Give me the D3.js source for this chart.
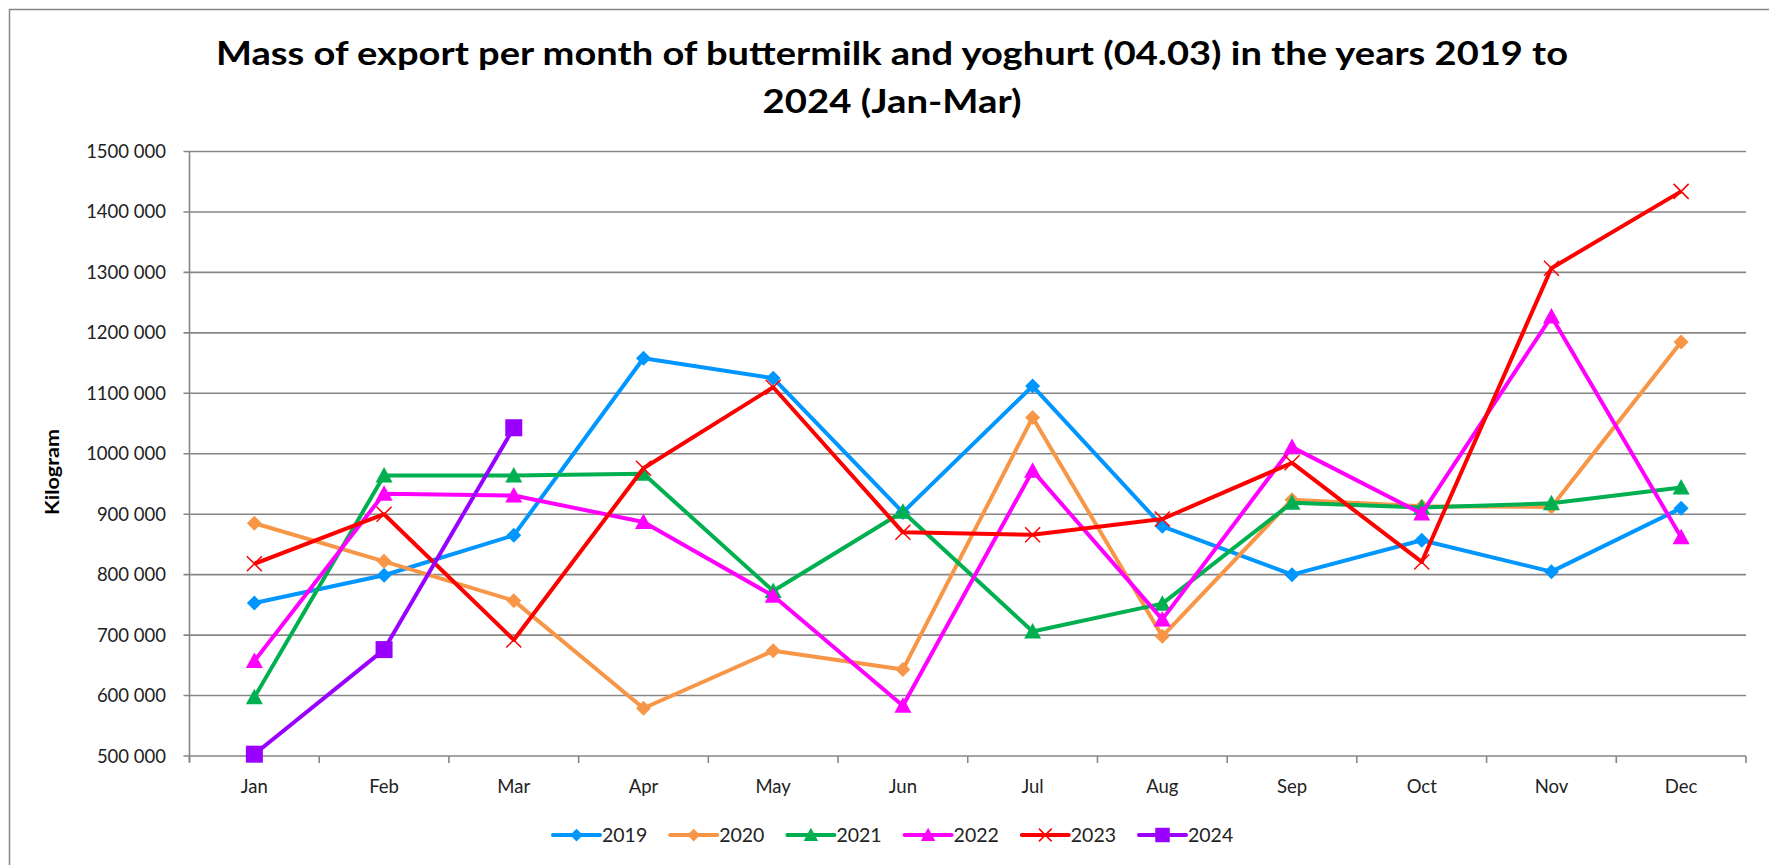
<!DOCTYPE html>
<html>
<head>
<meta charset="utf-8">
<script src="https://cdn.jsdelivr.net/npm/d3@7"></script>
<style>
  html, body { margin: 0; padding: 0; background: #fff; }
  svg { display: block; }
  text { font-family: "Lato", "Open Sans", sans-serif; }
</style>
</head>
<body>
<svg id="chart"></svg>
<script>
// months on the x axis
var months = ["Jan","Feb","Mar","Apr","May","Jun","Jul","Aug","Sep","Oct","Nov","Dec"];
var yTicks = [500000,600000,700000,800000,900000,1000000,1100000,1200000,1300000,1400000,1500000];

// kilogram per month
var s2019 = [753000, 799000, 865000, 1158000, 1125000, 903000, 1112000, 880000, 800000, 857000, 805000, 910000];
var s2020 = [885000, 822000, 757000, 579000, 674000, 643000, 1060000, 698000, 924000, 913000, 912000, 1185000];
var s2021 = [597000, 964000, 964000, 967000, 773000, 904000, 706000, 752000, 919000, 911000, 918000, 944000];
var s2022 = [657000, 934000, 931000, 887000, 765000, 583000, 972000, 726000, 1011000, 901000, 1227000, 862000];
var s2023 = [818000, 900000, 692000, 976000, 1110000, 870000, 866000, 892000, 985000, 821000, 1307000, 1434000];
var s2024 = [503000, 676000, 1043000];

var seriesNames = ["2019","2020","2021","2022","2023","2024"];
var seriesColors = ["#0096FF","#F79646","#00B050","#FF00FF","#FF0000","#9900FF"];
var seriesMarkers = ["diamond","diamond","triangle","triangle","cross","square"];
var seriesValues = [s2019, s2020, s2021, s2022, s2023, s2024];

var width = 1769, height = 865;
var plot = {left: 189.5, right: 1746, top: 151.5, bottom: 756};

var svg = d3.select("#chart").attr("width", width).attr("height", height);

// outer chart border
svg.append("rect").attr("x", 9.5).attr("y", 9.5).attr("width", 1800).attr("height", 900)
	.attr("fill", "none").attr("stroke", "#868686").attr("stroke-width", 1.5);

var x = d3.scaleBand().domain(months).range([plot.left, plot.right]).paddingInner(0).paddingOuter(0);
var y = d3.scaleLinear().domain([500000, 1500000]).range([plot.bottom, plot.top]);
var cx = function(i){ return x(months[i]) + x.bandwidth()/2; };

// title
var title = svg.append("g").attr("font-weight", "bold").attr("text-anchor", "middle").attr("fill", "#000");
title.append("text").attr("x", 892).attr("y", 65).attr("font-size", 33)
	.attr("textLength", 1352).attr("lengthAdjust", "spacingAndGlyphs")
	.text("Mass of export per month of buttermilk and yoghurt (04.03) in the years 2019 to");
title.append("text").attr("x", 892).attr("y", 113).attr("font-size", 33)
	.attr("textLength", 259).attr("lengthAdjust", "spacingAndGlyphs")
	.text("2024 (Jan-Mar)");

// gridlines
svg.append("g").selectAll("line").data(yTicks).enter().append("line")
	.attr("x1", plot.left - 6).attr("x2", plot.right)
	.attr("y1", function(d){ return y(d); }).attr("y2", function(d){ return y(d); })
	.attr("stroke", "#868686").attr("stroke-width", 1.6);

// y axis line
svg.append("line").attr("x1", plot.left).attr("x2", plot.left)
	.attr("y1", plot.top).attr("y2", plot.bottom + 6)
	.attr("stroke", "#868686").attr("stroke-width", 1.6);

// y tick labels
svg.append("g").selectAll("text").data(yTicks).enter().append("text")
	.attr("x", 166).attr("y", function(d){ return y(d) + 6.5; })
	.attr("text-anchor", "end").attr("font-size", 18.5).attr("fill", "#222")
	.text(function(d){ return Math.floor(d/1000) + " 000"; });

// x ticks at band boundaries
var bounds = months.map(function(m){ return x(m); }).concat([plot.right]);
svg.append("g").selectAll("line").data(bounds).enter().append("line")
	.attr("x1", function(d){ return d; }).attr("x2", function(d){ return d; })
	.attr("y1", plot.bottom).attr("y2", plot.bottom + 7)
	.attr("stroke", "#868686").attr("stroke-width", 1.6);

// x tick labels
svg.append("g").selectAll("text").data(months).enter().append("text")
	.attr("x", function(d){ return x(d) + x.bandwidth()/2; }).attr("y", 793)
	.attr("text-anchor", "middle").attr("font-size", 18.5).attr("fill", "#222")
	.text(function(d){ return d; });

// y axis title
svg.append("text").attr("transform", "translate(59,472) rotate(-90)")
	.attr("text-anchor", "middle").attr("font-size", 19).attr("font-weight", "bold")
	.attr("textLength", 86).attr("lengthAdjust", "spacingAndGlyphs")
	.text("Kilogram");

function drawMarker(g, type, color, px, py, k){
	k = k || 1;
	if(type === "diamond"){
		g.append("path").attr("d", "M"+px+","+(py-7.5*k)+"L"+(px+7.5*k)+","+py+"L"+px+","+(py+7.5*k)+"L"+(px-7.5*k)+","+py+"Z")
			.attr("fill", color);
	}else if(type === "triangle"){
		g.append("path").attr("d", "M"+px+","+(py-8.5*k)+"L"+(px+8.5*k)+","+(py+7*k)+"L"+(px-8.5*k)+","+(py+7*k)+"Z")
			.attr("fill", color);
	}else if(type === "square"){
		g.append("rect").attr("x", px-8.5*k).attr("y", py-8.5*k).attr("width", 17*k).attr("height", 17*k).attr("fill", color);
	}else if(type === "cross"){
		g.append("path").attr("d", "M"+(px-7.5*k)+","+(py-7.5*k)+"L"+(px+7.5*k)+","+(py+7.5*k)+"M"+(px+7.5*k)+","+(py-7.5*k)+"L"+(px-7.5*k)+","+(py+7.5*k))
			.attr("stroke", color).attr("stroke-width", 1.5).attr("fill", "none");
	}
}

var line = d3.line().x(function(d, i){ return cx(i); }).y(function(d){ return y(d); });

// series lines and markers
seriesValues.forEach(function(vals, si){
	var g = svg.append("g");
	g.append("path").datum(vals).attr("d", line)
		.attr("fill", "none").attr("stroke", seriesColors[si]).attr("stroke-width", 4)
		.attr("stroke-linejoin", "round");
	vals.forEach(function(v, i){
		drawMarker(g, seriesMarkers[si], seriesColors[si], cx(i), y(v));
	});
});

// legend
var legend = svg.append("g");
seriesNames.forEach(function(name, i){
	var lx = 553 + i*117.2, ly = 835;
	var g = legend.append("g");
	g.append("line").attr("x1", lx).attr("x2", lx + 47).attr("y1", ly).attr("y2", ly)
		.attr("stroke", seriesColors[i]).attr("stroke-width", 4).attr("stroke-linecap", "round");
	drawMarker(g, seriesMarkers[i], seriesColors[i], lx + 23.5, ly, 0.85);
	g.append("text").attr("x", lx + 49).attr("y", ly + 7).attr("font-size", 19.5).attr("fill", "#222")
		.text(name);
});
</script>
</body>
</html>
